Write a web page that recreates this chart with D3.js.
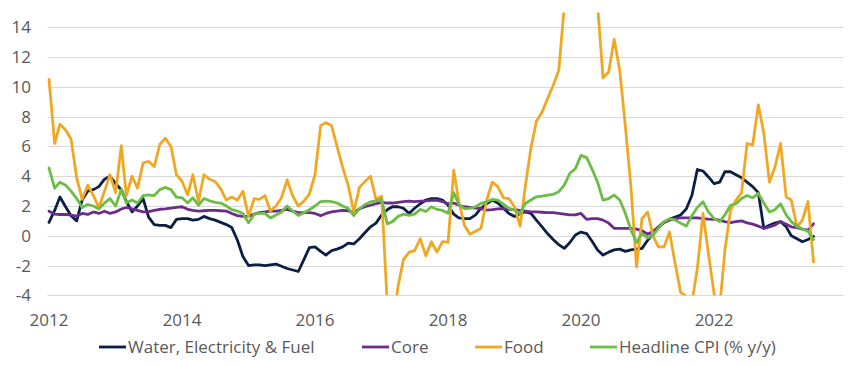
<!DOCTYPE html>
<html>
<head>
<meta charset="utf-8">
<script src="https://cdn.jsdelivr.net/npm/d3@7"></script>
<style>
  html, body { margin: 0; padding: 0; background: #ffffff; }
  svg { display: block; }
  text { font-family: "Open Sans", "Noto Sans", sans-serif; fill: #595959; }
</style>
</head>
<body>
<svg id="chart" width="850" height="366"></svg>
<script>
// ---- data (monthly, Jan 2012 – Jul 2023, % y/y) ----
const startMonth = new Date(2012, 0, 1);
const endMonth = new Date(2023, 7, 1);

const seriesNames = ["Water, Electricity & Fuel", "Core", "Food", "Headline CPI (% y/y)"];
const seriesColors = ["#0b1f45", "#6b2c8c", "#f0a823", "#6cbd45"];

const waterElecFuel = [
  0.9, 1.7, 2.6, 1.95, 1.35, 1.0, 2.4, 3.0, 3.1, 3.3,
  3.8, 4.0, 3.5, 3.1, 2.3, 1.6, 2.0, 2.5, 1.25, 0.75,
  0.7, 0.7, 0.55, 1.1, 1.15, 1.15, 1.05, 1.1, 1.3, 1.15,
  1.05, 0.9, 0.75, 0.55, -0.3, -1.4, -2.0, -1.95, -1.95, -2.0,
  -1.95, -1.9, -2.05, -2.2, -2.3, -2.4, -1.6, -0.8, -0.75, -1.05,
  -1.3, -1.0, -0.9, -0.75, -0.5, -0.55, -0.2, 0.2, 0.6, 0.85,
  1.4, 1.75, 1.95, 1.95, 1.85, 1.5, 1.85, 2.15, 2.4, 2.5,
  2.5, 2.4, 2.05, 1.45, 1.2, 1.15, 1.15, 1.4, 1.85, 2.15,
  2.4, 2.2, 1.85, 1.5, 1.3, 1.5, 1.6, 1.5, 1.05, 0.6,
  0.15, -0.25, -0.6, -0.85, -0.45, 0.05, 0.25, 0.15, -0.35, -0.95,
  -1.3, -1.1, -0.95, -0.9, -1.05, -0.95, -0.9, -0.85, -0.3, 0.15,
  0.55, 0.9, 1.1, 1.25, 1.4, 1.8, 2.7, 4.45, 4.35, 3.95,
  3.5, 3.6, 4.3, 4.3, 4.1, 3.9, 3.6, 3.3, 2.9, 0.5,
  0.7, 0.85, 0.95, 0.6, 0.0, -0.2, -0.4, -0.25, -0.05
];

const core = [
  1.65, 1.45, 1.43, 1.43, 1.38, 1.32, 1.5, 1.43, 1.6, 1.5,
  1.65, 1.5, 1.6, 1.8, 1.9, 1.8, 1.7, 1.6, 1.62, 1.7,
  1.78, 1.8, 1.85, 1.9, 1.95, 1.78, 1.7, 1.66, 1.68, 1.7,
  1.7, 1.68, 1.66, 1.5, 1.35, 1.3, 1.32, 1.45, 1.55, 1.6,
  1.66, 1.66, 1.7, 1.77, 1.65, 1.55, 1.55, 1.55, 1.5, 1.35,
  1.5, 1.6, 1.66, 1.7, 1.68, 1.55, 1.8, 1.95, 2.05, 2.15,
  2.25, 2.2, 2.2, 2.25, 2.3, 2.33, 2.3, 2.33, 2.35, 2.38,
  2.4, 2.3, 2.15, 2.2, 2.05, 1.95, 1.9, 1.85, 1.82, 1.72,
  1.75, 1.8, 1.82, 1.78, 1.75, 1.7, 1.65, 1.6, 1.6, 1.58,
  1.55, 1.55, 1.5, 1.45, 1.4, 1.4, 1.5, 1.1, 1.15, 1.15,
  1.05, 0.85, 0.5, 0.5, 0.5, 0.5, 0.45, 0.35, 0.1, 0.3,
  0.6, 0.9, 1.05, 1.15, 1.2, 1.2, 1.2, 1.2, 1.15, 1.12,
  1.1, 1.05, 0.95, 0.88, 0.95, 1.0, 0.87, 0.78, 0.65, 0.5,
  0.6, 0.72, 0.95, 0.78, 0.6, 0.55, 0.45, 0.38, 0.8
];

const food = [
  10.5, 6.2, 7.5, 7.1, 6.5, 3.9, 2.45, 3.4, 2.7, 1.9,
  3.0, 4.1, 2.9, 6.05, 2.7, 4.0, 3.2, 4.9, 5.0, 4.65,
  6.15, 6.55, 6.0, 4.1, 3.65, 2.75, 4.1, 2.3, 4.1, 3.8,
  3.65, 3.15, 2.4, 2.6, 2.4, 3.0, 1.3, 2.5, 2.45, 2.7,
  1.66, 2.0, 2.56, 3.75, 2.67, 2.0, 2.33, 2.8, 4.1, 7.4,
  7.6, 7.4, 6.0, 4.6, 3.4, 1.6, 3.25, 3.65, 4.0, 2.45,
  2.65, -4.6, -6.4, -3.4, -1.6, -1.1, -1.0, -0.2, -1.35, -0.4,
  -1.1, -0.4, -0.45, 4.4, 2.3, 0.7, 0.1, 0.3, 0.5, 2.4,
  3.6, 3.3, 2.55, 2.5, 1.95, 0.65, 3.3, 5.9, 7.7, 8.3,
  9.2, 10.1, 11.1, 15.4, 17.0, 19.0, 20.0, 19.0, 17.0, 15.5,
  10.6, 11.0, 13.2, 11.1, 7.3, 3.3, -2.1, 1.15, 1.6, -0.05,
  -0.75, -0.75, 0.25, -1.85, -3.8, -4.05, -4.5, -2.2, 1.5, -1.2,
  -3.9, -4.8, -1.0, 1.7, 2.4, 2.9, 6.2, 6.1, 8.8, 6.9,
  3.6, 4.6, 6.2, 2.6, 2.4, 0.6, 1.05, 2.3, -1.75
];

const headlineCPI = [
  4.55, 3.2, 3.6, 3.4, 3.0, 2.5, 1.9, 2.1, 2.0, 1.8,
  2.2, 2.5, 2.0, 3.1, 2.2, 2.4, 2.2, 2.7, 2.75, 2.7,
  3.1, 3.25, 3.1, 2.6, 2.55, 2.2, 2.55, 2.05, 2.5, 2.35,
  2.25, 2.2, 2.0, 1.75, 1.66, 1.5, 0.88, 1.45, 1.5, 1.5,
  1.2, 1.4, 1.6, 2.0, 1.65, 1.37, 1.55, 1.75, 2.0, 2.3,
  2.33, 2.3, 2.2, 2.0, 1.85, 1.35, 1.8, 2.1, 2.27, 2.35,
  2.45, 0.8, 0.95, 1.3, 1.45, 1.37, 1.45, 1.77, 1.63, 1.95,
  1.77, 1.7, 1.52, 2.9, 2.1, 1.82, 1.84, 1.95, 2.17, 2.28,
  2.44, 2.4, 2.13, 1.84, 1.72, 1.5, 2.17, 2.4, 2.62, 2.67,
  2.73, 2.78, 2.96, 3.4, 4.2, 4.5, 5.4, 5.25, 4.5, 3.6,
  2.4, 2.5, 2.73, 2.4, 1.5, 0.4, -0.45, 0.15, -0.15, 0.05,
  0.5, 0.95, 1.15, 1.05, 0.85, 0.65, 1.35, 1.9, 2.28, 1.6,
  1.15, 0.95, 1.4, 2.05, 2.15, 2.5, 2.7, 2.55, 2.85, 2.2,
  1.6, 1.75, 2.15, 1.4, 0.95, 0.65, 0.45, 0.3, -0.25
];

const yTicks = [-4, -2, 0, 2, 4, 6, 8, 10, 12, 14];
const xTickYears = [2012, 2014, 2016, 2018, 2020, 2022];

// ---- layout ----
const svg = d3.select("#chart");
const months = d3.timeMonth.range(startMonth, endMonth);
const allSeries = [waterElecFuel, core, food, headlineCPI];

const x = d3.scaleTime()
  .domain([new Date(2012, 0, 1), new Date(2024, 0, 1)])
  .range([49, 847]);
const y = d3.scaleLinear().domain([-4, 15]).range([295.3, 12.5]);

const gridLeft = 47.5, gridRight = 843.5;

// gridlines
svg.append("g").selectAll("line").data(yTicks).join("line")
  .attr("x1", gridLeft).attr("x2", gridRight)
  .attr("y1", d => Math.round(y(d)) + 0.5).attr("y2", d => Math.round(y(d)) + 0.5)
  .attr("stroke", "#d9d9d9").attr("stroke-width", 1);

// y tick labels
svg.append("g").selectAll("text").data(yTicks).join("text")
  .attr("x", 31).attr("y", d => y(d) + 6)
  .attr("text-anchor", "end").attr("font-size", 17)
  .text(d => d < 0 ? "-" + Math.abs(d) : d);

// x tick labels
svg.append("g").selectAll("text").data(xTickYears).join("text")
  .attr("x", d => x(new Date(d, 0, 1))).attr("y", 326)
  .attr("text-anchor", "middle").attr("font-size", 17)
  .text(d => d);

// clip
svg.append("defs").append("clipPath").attr("id", "plotclip")
  .append("rect").attr("x", 30).attr("y", y(15)).attr("width", 820).attr("height", y(-4) - y(15));

const line = d3.line().x((d, i) => x(months[i])).y(d => y(d));

const lines = svg.append("g").attr("clip-path", "url(#plotclip)");
allSeries.forEach((s, k) => {
  lines.append("path").datum(s)
    .attr("d", line)
    .attr("fill", "none")
    .attr("stroke", seriesColors[k])
    .attr("stroke-width", 2.8)
    .attr("stroke-linejoin", "round")
    .attr("stroke-linecap", "round");
});

const legendX = [99, 362, 475, 590];
const legend = svg.append("g");
seriesNames.forEach((name, k) => {
  const lx = legendX[k];
  legend.append("line")
    .attr("x1", lx).attr("x2", lx + 27).attr("y1", 347).attr("y2", 347)
    .attr("stroke", seriesColors[k]).attr("stroke-width", 2.8);
  legend.append("text")
    .attr("x", lx + 29).attr("y", 352.5).attr("font-size", 17)
    .text(name);
});
</script>
</body>
</html>
